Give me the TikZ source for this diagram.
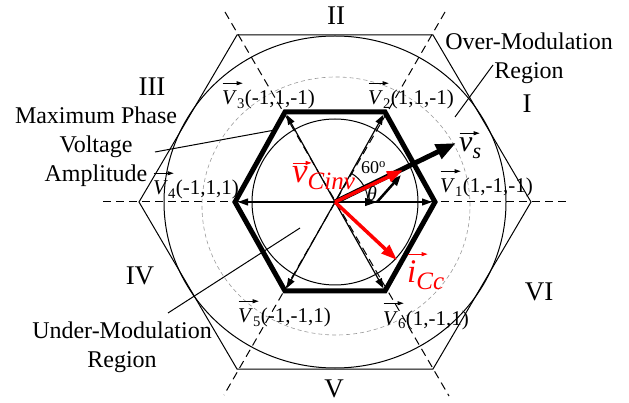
\documentclass[tikz,border=0pt]{standalone}
\usepackage{fontspec}
\setmainfont{Liberation Serif}
\usetikzlibrary{arrows.meta,calc}
\newcommand{\ovr}[4][black]{\leavevmode\vbox{\offinterlineskip\hbox{\rlap{\tikz[baseline=0pt]\draw[#1,line width=0.8pt,-{Triangle[length=6pt,width=4pt]}] (0pt,0pt)--(#2,0pt);}}\kern#3\hbox{#4}}}
\begin{document}
\begin{tikzpicture}[x=1pt,y=-1pt,
  thinl/.style={line width=1pt},
  dashl/.style={line width=1pt, dash pattern=on 8pt off 5pt},
  graydash/.style={line width=0.6pt, black!40, dash pattern=on 4pt off 3pt},
  thickhex/.style={line width=5pt, line join=miter},
  varr/.style={line width=1.2pt, -{Triangle[length=10pt,width=7pt]}, shorten >=3pt},
  vsarr/.style={line width=5pt, -{Triangle[length=20pt,width=15pt]}},
  redarr/.style={red, line width=3.5pt, -{Triangle[length=16pt,width=11pt]}},
  comparr/.style={line width=2.5pt, -{Triangle[length=11pt,width=8pt]}},
  hcomp/.style={line width=1.2pt, -{Triangle[length=12pt,width=8pt]}},
  roman/.style={font=\fontsize{27}{30}\selectfont, inner sep=0pt},
  region/.style={font=\fontsize{24}{29}\selectfont, align=center, inner sep=0pt, anchor=north},
  vlab/.style={font=\fontsize{21}{24}\selectfont, inner sep=0pt, anchor=base west}]
\useasboundingbox (0,0) rectangle (629,403);
\coordinate (C) at (335,202);
% outer hexagon
\coordinate (O1) at (531,202);
\coordinate (O2) at (433,35);
\coordinate (O3) at (237,35);
\coordinate (O4) at (139,202);
\coordinate (O5) at (237,369);
\coordinate (O6) at (433,369);
% thick hexagon
\coordinate (H1) at (435,202);
\coordinate (H2) at (385,112);
\coordinate (H3) at (285,112);
\coordinate (H4) at (235,202);
\coordinate (H5) at (285,291);
\coordinate (H6) at (385,291);
% dashed axes
\coordinate (DL) at (103,202);
\coordinate (DR) at (567,202);
\coordinate (DA1) at (445,12);
\coordinate (DA2) at (224,395);
\coordinate (DB1) at (225,12);
\coordinate (DB2) at (449,396);
\draw[dashl] (DL) -- (DR);
\draw[dashl] (DA1) -- (DA2);
\draw[dashl] (DB1) -- (DB2);
% circles
\draw[graydash] (336,206) ellipse [x radius=134pt, y radius=129pt];
\draw[thinl] (C) ellipse [x radius=171pt, y radius=166pt];
\draw[thinl] (C) circle [radius=83pt];
\draw[thinl] (O1) -- (O2) -- (O3) -- (O4) -- (O5) -- (O6) -- cycle;
\draw[thickhex] (H1) -- (H2) -- (H3) -- (H4) -- (H5) -- (H6) -- cycle;
% basic vectors
\foreach \h in {H1,H2,H3,H4,H5,H6} \draw[varr] (C) -- (\h);
% angle arc
\draw[thinl] ($(C)+(33,0)$) arc [start angle=0, end angle=60, radius=33pt];
% vs and components
\coordinate (vsT) at (456,143);
\coordinate (K1) at (377,202);
\coordinate (K2) at (401,175);
\draw[vsarr] (C) -- (vsT);
\draw[hcomp] (C) -- (K1);
\draw[comparr] (K1) -- (K2);
\coordinate (vcT) at (403,170);
\coordinate (icT) at (397,260);
\draw[redarr] (C) -- (vcT);
\draw[redarr] (C) -- (icT);
% pointer lines
\coordinate (mpA) at (155,152);
\coordinate (mpB) at (275,130);
\coordinate (omA) at (493,65);
\coordinate (omB) at (455,117);
\coordinate (umA) at (168,313);
\coordinate (umB) at (300,228);
\draw[thinl] (mpA) -- (mpB);
\draw[thinl] (omA) -- (omB);
\draw[thinl] (umA) -- (umB);
% roman numerals
\node[roman] (rI) at (527,104) {I};
\node[roman] (rII) at (336,16) {II};
\node[roman] (rIII) at (152,87) {III};
\node[roman] (rIV) at (140,276) {IV};
\node[roman] (rV) at (334,389) {V};
\node[roman] (rVI) at (539,292) {VI};
% region texts
\node[region] (om) at (529,33) {Over-Modulation\\Region};
\node[region] (mp) at (96,107) {Maximum Phase\\Voltage\\Amplitude};
\node[region] (um) at (122,322) {Under-Modulation\\Region};
% vector labels
\node[vlab] (l1) at (440,193) {\ovr{20pt}{6pt}{\textit{V}}\textsubscript{1}(1,-1,-1)};
\node[vlab] (l2) at (368,105) {\ovr{20pt}{6pt}{\textit{V}}\textsubscript{2}(1,1,-1)};
\node[vlab] (l3) at (222,105) {\ovr{20pt}{6pt}{\textit{V}}\textsubscript{3}(-1,1,-1)};
\node[vlab] (l4) at (153,195) {\ovr{20pt}{6pt}{\textit{V}}\textsubscript{4}(-1,1,1)};
\node[vlab] (l5) at (238,323) {\ovr{20pt}{6pt}{\textit{V}}\textsubscript{5}(-1,-1,1)};
\node[vlab] (l6) at (383,325) {\ovr{20pt}{6pt}{\textit{V}}\textsubscript{6}(1,-1,1)};
\node[inner sep=0pt, anchor=base west, font=\fontsize{30}{31}\selectfont] (lvs) at (459,152) {\ovr{20pt}{3pt}{\textit{v}}\raisebox{-7pt}{\fontsize{22}{22}\selectfont\textit{s}}};
\node[inner sep=0pt, anchor=base west, text=red, font=\fontsize{35}{36}\selectfont] (lvc) at (292,183) {\ovr[red]{19pt}{2pt}{\textit{v}}\raisebox{-7pt}{\fontsize{25}{25}\selectfont\textit{Cinv}}};
\node[inner sep=0pt, anchor=base west, text=red, font=\fontsize{33}{34}\selectfont] (lic) at (407,283) {\ovr[red]{20pt}{5pt}{\textit{i}}\raisebox{-7pt}{\fontsize{25}{25}\selectfont\textit{Cc}}};
\node[inner sep=0pt, anchor=base west, font=\fontsize{18}{19}\selectfont] (l60) at (361,174) {60\textsuperscript{o}};
\node[inner sep=0pt, anchor=base west, font=\fontsize{20}{20}\selectfont] (lth) at (367,201) {\textit{θ}};
\end{tikzpicture}
\end{document}
